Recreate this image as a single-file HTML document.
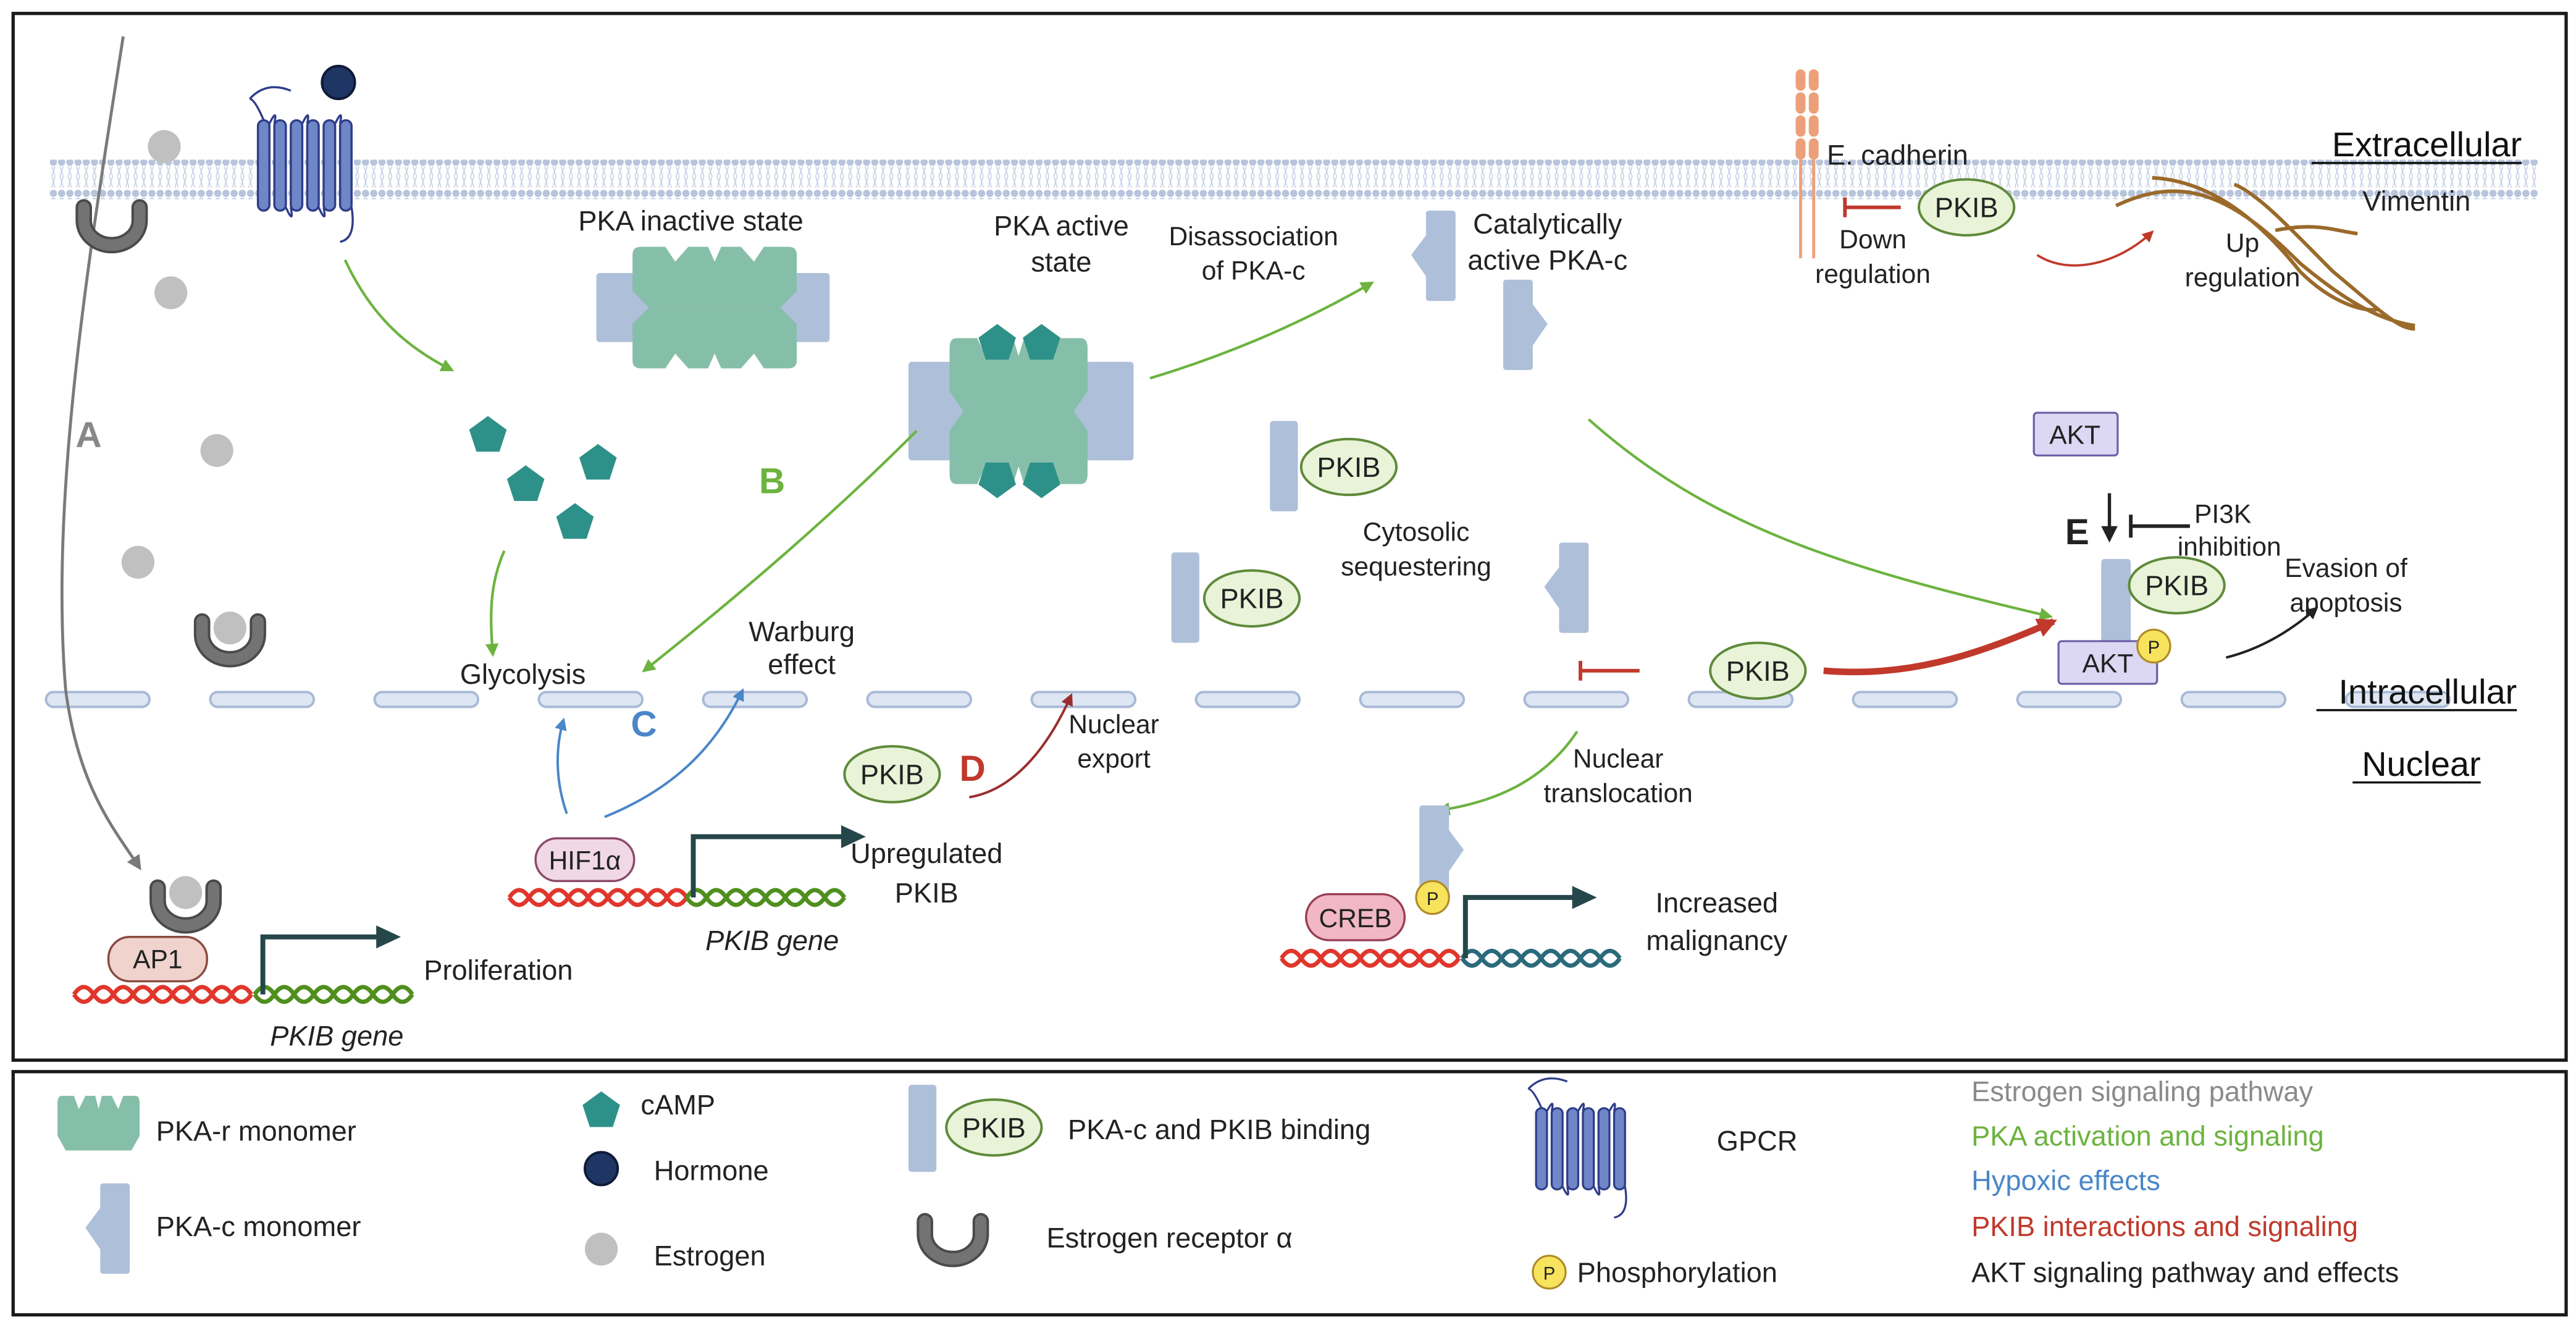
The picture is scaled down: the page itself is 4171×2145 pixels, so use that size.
<!DOCTYPE html>
<html><head><meta charset="utf-8"><style>
html,body{margin:0;padding:0;background:#fff;}
svg{display:block;}
text{font-family:"Liberation Sans",sans-serif;}
</style></head><body>
<svg width="4171" height="2145" viewBox="0 0 1568 806" xmlns="http://www.w3.org/2000/svg">
<defs>
<marker id="mg" viewBox="0 0 10 10" refX="8" refY="5" markerWidth="5" markerHeight="5" orient="auto"><path d="M0,0 L10,5 L0,10 Z" fill="#6cb33f"/></marker>
<marker id="mb" viewBox="0 0 10 10" refX="8" refY="5" markerWidth="5" markerHeight="5" orient="auto"><path d="M0,0 L10,5 L0,10 Z" fill="#4a86c8"/></marker>
<marker id="mr" viewBox="0 0 10 10" refX="8" refY="5" markerWidth="5" markerHeight="5" orient="auto"><path d="M0,0 L10,5 L0,10 Z" fill="#c0392b"/></marker>
<marker id="md" viewBox="0 0 10 10" refX="8" refY="5" markerWidth="5" markerHeight="5" orient="auto"><path d="M0,0 L10,5 L0,10 Z" fill="#9b2f2f"/></marker>
<marker id="mk" viewBox="0 0 10 10" refX="8" refY="5" markerWidth="5" markerHeight="5" orient="auto"><path d="M0,0 L10,5 L0,10 Z" fill="#222"/></marker>
<marker id="mgr" viewBox="0 0 10 10" refX="8" refY="5" markerWidth="5" markerHeight="5" orient="auto"><path d="M0,0 L10,5 L0,10 Z" fill="#7a7a7a"/></marker>
<marker id="mr2" viewBox="0 0 10 10" refX="8" refY="5" markerWidth="3" markerHeight="3" orient="auto"><path d="M0,0 L10,5 L0,10 Z" fill="#c0392b"/></marker>
<pattern id="lip" x="0" y="0" width="5" height="24" patternUnits="userSpaceOnUse">
<circle cx="2.5" cy="2.5" r="2.2" fill="#b7c4dc"/>
<circle cx="2.5" cy="21.5" r="2.2" fill="#b7c4dc"/>
<path d="M1.5,5 L3.5,11 L1.5,18 M3.5,5 L1.5,11 L3.5,18" stroke="#c7d1e4" stroke-width="0.6" fill="none"/>
</pattern>
<g id="pkacL"><path d="M9,2 Q9,0 11,0 L25,0 Q27,0 27,2 L27,53 Q27,55 25,55 L11,55 Q9,55 9,53 L9,40 L0,27 L9,15 Z" fill="#aebfd9"/></g>
<g id="pkacR"><path d="M18,2 Q18,0 16,0 L2,0 Q0,0 0,2 L0,53 Q0,55 2,55 L16,55 Q18,55 18,53 L18,40 L27,27 L18,15 Z" fill="#aebfd9"/></g>
<g id="rhalf"><path d="M-50,-32 Q-50,-37 -45,-37 L-30,-37 L-24,-28 L-16,-37 L-4,-37 L0,-28 L4,-37 L16,-37 L24,-28 L30,-37 L45,-37 Q50,-37 50,-32 L50,-10 L40,0 L-40,0 L-50,-10 Z" fill="#86bfa9"/></g>
<g id="pent"><polygon points="0,-12 11.4,-3.7 7,9.7 -7,9.7 -11.4,-3.7" fill="#2e9189"/></g>
<g id="cup"><path d="M-17,-12 L-17,-4 A17,15 0 0 0 17,-4 L17,-12" stroke="#4a4a4a" stroke-width="10" fill="none" stroke-linecap="round"/><path d="M-17,-12 L-17,-4 A17,15 0 0 0 17,-4 L17,-12" stroke="#737373" stroke-width="7" fill="none" stroke-linecap="round"/></g>
<g id="pkib"><ellipse cx="0" cy="0" rx="29" ry="17" fill="#e8f3d8" stroke="#5f8a3a" stroke-width="1.5"/><text x="0" y="6" font-size="17" text-anchor="middle" fill="#222">PKIB</text></g>
<g id="pcirc"><circle r="10" fill="#f7e35c" stroke="#b08a2a" stroke-width="1.2"/><text y="4.5" font-size="11" text-anchor="middle" fill="#222">P</text></g>
<g id="gpcr" fill="#6f86c7" stroke="#2f3d8a" stroke-width="1.3">
<path d="M-5,-25 Q5,-36 20,-30" fill="none"/>
<rect x="0" y="-12" width="7" height="55" rx="3.5"/><rect x="10" y="-12" width="7" height="55" rx="3.5"/><rect x="20" y="-12" width="7" height="55" rx="3.5"/><rect x="30" y="-12" width="7" height="55" rx="3.5"/><rect x="40" y="-12" width="7" height="55" rx="3.5"/><rect x="50" y="-12" width="7" height="55" rx="3.5"/>
<path d="M3.5,-12 Q-2,-25 -5,-25 M7,-10 Q12,-20 10,-10 M27,-10 Q32,-20 30,-10 M47,-10 Q52,-20 50,-10 M17,41 Q22,52 20,41 M37,41 Q42,52 40,41 M57,41 Q60,60 50,62" fill="none"/>
</g>
<path id="dnaR" d="M0,0 q6,-9 12,0 t12,0 t12,0 t12,0 t12,0 t12,0 t12,0 t12,0 t12,0 M0,0 q6,9 12,0 t12,0 t12,0 t12,0 t12,0 t12,0 t12,0 t12,0 t12,0" stroke="#e0362c" stroke-width="2.6" fill="none"/>
<path id="dnaG" d="M0,0 q6,-9 12,0 t12,0 t12,0 t12,0 t12,0 t12,0 t12,0 t12,0 M0,0 q6,9 12,0 t12,0 t12,0 t12,0 t12,0 t12,0 t12,0 t12,0" stroke="#4f8f1e" stroke-width="2.6" fill="none"/>
<path id="dnaT" d="M0,0 q6,-9 12,0 t12,0 t12,0 t12,0 t12,0 t12,0 t12,0 t12,0 M0,0 q6,9 12,0 t12,0 t12,0 t12,0 t12,0 t12,0 t12,0 t12,0" stroke="#2a6a7a" stroke-width="2.6" fill="none"/>
</defs>

<rect x="0" y="0" width="1568" height="806" fill="#fff"/>
<rect x="8" y="8" width="1554" height="637" fill="#fff" stroke="#1a1a1a" stroke-width="2"/>
<rect x="8" y="652" width="1554" height="148" fill="#fff" stroke="#1a1a1a" stroke-width="2"/>

<rect x="30" y="97" width="1515" height="24" fill="url(#lip)"/>

<g fill="#dde6f2" stroke="#a9bad6" stroke-width="1.5">
<rect x="28" y="421" width="63" height="9" rx="4.5"/><rect x="128" y="421" width="63" height="9" rx="4.5"/><rect x="228" y="421" width="63" height="9" rx="4.5"/><rect x="328" y="421" width="63" height="9" rx="4.5"/><rect x="428" y="421" width="63" height="9" rx="4.5"/><rect x="528" y="421" width="63" height="9" rx="4.5"/><rect x="628" y="421" width="63" height="9" rx="4.5"/><rect x="728" y="421" width="63" height="9" rx="4.5"/><rect x="828" y="421" width="63" height="9" rx="4.5"/><rect x="928" y="421" width="63" height="9" rx="4.5"/><rect x="1028" y="421" width="63" height="9" rx="4.5"/><rect x="1128" y="421" width="63" height="9" rx="4.5"/><rect x="1228" y="421" width="63" height="9" rx="4.5"/><rect x="1328" y="421" width="63" height="9" rx="4.5"/><rect x="1428" y="421" width="63" height="9" rx="4.5"/>
</g>

<g font-size="21" fill="#111" text-anchor="end">
<text x="1535" y="95">Extracellular</text><line x1="1407" y1="99" x2="1535" y2="99" stroke="#111" stroke-width="1.3"/>
<text x="1532" y="428">Intracellular</text><line x1="1410" y1="432" x2="1532" y2="432" stroke="#111" stroke-width="1.3"/>
<text x="1510" y="472">Nuclear</text><line x1="1432" y1="476" x2="1510" y2="476" stroke="#111" stroke-width="1.3"/>
</g>

<path d="M75,22 C55,150 30,300 40,420 C48,480 70,505 85,528" stroke="#7a7a7a" stroke-width="1.8" fill="none" marker-end="url(#mgr)"/>
<circle cx="100" cy="89" r="10" fill="#c0c0c0"/>
<circle cx="104" cy="178" r="10" fill="#c0c0c0"/>
<circle cx="132" cy="274" r="10" fill="#c0c0c0"/>
<circle cx="84" cy="342" r="10" fill="#c0c0c0"/>
<use href="#cup" x="68" y="138"/>
<circle cx="140" cy="382" r="10" fill="#c0c0c0"/>
<use href="#cup" x="140" y="390"/>
<text x="46" y="272" font-size="22" font-weight="bold" fill="#888">A</text>

<use href="#gpcr" x="157" y="85"/>
<circle cx="206" cy="50" r="10" fill="#1f3563" stroke="#0e1a38" stroke-width="1.5"/>
<path d="M210,158 C225,190 245,210 275,225" stroke="#6cb33f" stroke-width="1.6" fill="none" marker-end="url(#mg)"/>
<use href="#pent" x="297" y="265"/><use href="#pent" x="364" y="282"/><use href="#pent" x="320" y="295"/><use href="#pent" x="350" y="318"/>
<path d="M307,335 C298,355 298,375 300,398" stroke="#6cb33f" stroke-width="1.6" fill="none" marker-end="url(#mg)"/>
<text x="280" y="416" font-size="17" fill="#222">Glycolysis</text>

<text x="352" y="140" font-size="17" fill="#222">PKA inactive state</text>
<rect x="363" y="166" width="142" height="42" rx="2" fill="#aebfd9"/>
<use href="#rhalf" x="435" y="187"/>
<use href="#rhalf" transform="translate(435,187) scale(1,-1)"/>

<text x="646" y="143" font-size="17" fill="#222" text-anchor="middle">PKA active</text>
<text x="646" y="165" font-size="17" fill="#222" text-anchor="middle">state</text>
<rect x="553" y="220" width="137" height="60" rx="2" fill="#aebfd9"/>
<use href="#rhalf" transform="translate(620,250) scale(0.84,1.2)"/>
<use href="#rhalf" transform="translate(620,250) scale(0.84,-1.2)"/>
<use href="#pent" x="607" y="209"/><use href="#pent" x="634" y="209"/>
<use href="#pent" transform="translate(607,291) scale(1,-1)"/><use href="#pent" transform="translate(634,291) scale(1,-1)"/>
<text x="462" y="300" font-size="22" font-weight="bold" fill="#6cb33f">B</text>
<path d="M558,262 C500,320 440,370 392,408" stroke="#6cb33f" stroke-width="1.6" fill="none" marker-end="url(#mg)"/>

<text x="488" y="390" font-size="17" fill="#222" text-anchor="middle">Warburg</text>
<text x="488" y="410" font-size="17" fill="#222" text-anchor="middle">effect</text>
<text x="384" y="448" font-size="22" font-weight="bold" fill="#4a86c8">C</text>
<path d="M345,495 C338,475 338,455 343,438" stroke="#4a86c8" stroke-width="1.5" fill="none" marker-end="url(#mb)"/>
<path d="M368,497 C410,480 435,455 452,420" stroke="#4a86c8" stroke-width="1.5" fill="none" marker-end="url(#mb)"/>
<use href="#dnaR" x="310" y="546"/>
<use href="#dnaG" x="418" y="546"/>
<rect x="326" y="510" width="60" height="26" rx="13" fill="#f1d8e6" stroke="#8a4a6a" stroke-width="1.3"/>
<text x="356" y="529" font-size="16" text-anchor="middle" fill="#222">HIF1α</text>
<path d="M422,546 L422,509 L515,509" stroke="#26474a" stroke-width="3" fill="none"/><polygon points="512,502 527,509 512,516" fill="#26474a"/>
<text x="470" y="578" font-size="17" font-style="italic" fill="#222" text-anchor="middle">PKIB gene</text>
<text x="564" y="525" font-size="17" fill="#222" text-anchor="middle">Upregulated</text>
<text x="564" y="549" font-size="17" fill="#222" text-anchor="middle">PKIB</text>

<use href="#pkib" x="543" y="471"/>
<text x="584" y="475" font-size="22" font-weight="bold" fill="#c0392b">D</text>
<path d="M590,485 C620,480 640,450 652,423" stroke="#9b2f2f" stroke-width="1.5" fill="none" marker-end="url(#md)"/>
<text x="678" y="446" font-size="16" fill="#222" text-anchor="middle">Nuclear</text>
<text x="678" y="467" font-size="16" fill="#222" text-anchor="middle">export</text>

<text x="763" y="149" font-size="16" fill="#222" text-anchor="middle">Disassociation</text>
<text x="763" y="170" font-size="16" fill="#222" text-anchor="middle">of PKA-c</text>
<path d="M700,230 C750,215 795,195 835,172" stroke="#6cb33f" stroke-width="1.6" fill="none" marker-end="url(#mg)"/>
<use href="#pkacL" x="859" y="128"/>
<use href="#pkacR" x="915" y="170"/>
<text x="942" y="142" font-size="17" fill="#222" text-anchor="middle">Catalytically</text>
<text x="942" y="164" font-size="17" fill="#222" text-anchor="middle">active PKA-c</text>

<rect x="773" y="256" width="17" height="55" rx="2" fill="#aebfd9"/>
<use href="#pkib" x="821" y="284"/>
<rect x="713" y="336" width="17" height="55" rx="2" fill="#aebfd9"/>
<use href="#pkib" x="762" y="364"/>
<text x="862" y="329" font-size="16" fill="#222" text-anchor="middle">Cytosolic</text>
<text x="862" y="350" font-size="16" fill="#222" text-anchor="middle">sequestering</text>
<use href="#pkacL" x="940" y="330"/>

<path d="M967,255 C1040,320 1120,345 1248,375" stroke="#6cb33f" stroke-width="1.6" fill="none" marker-end="url(#mg)"/>
<path d="M962,402 L962,414 M962,408 L998,408" stroke="#c0392b" stroke-width="2.2" fill="none"/>
<use href="#pkib" x="1070" y="408"/>
<path d="M1110,408 C1160,412 1200,400 1250,378" stroke="#c0392b" stroke-width="4" fill="none" marker-end="url(#mr2)"/>

<path d="M960,445 C940,475 910,488 876,493" stroke="#6cb33f" stroke-width="1.6" fill="none" marker-end="url(#mg)"/>
<text x="985" y="467" font-size="16" fill="#222" text-anchor="middle">Nuclear</text>
<text x="985" y="488" font-size="16" fill="#222" text-anchor="middle">translocation</text>
<use href="#pkacR" x="864" y="490"/>
<use href="#dnaR" x="780" y="583"/>
<use href="#dnaT" x="890" y="583"/>
<rect x="795" y="544" width="60" height="28" rx="14" fill="#f2b7c4" stroke="#9a3d55" stroke-width="1.3"/>
<text x="825" y="564" font-size="16" text-anchor="middle" fill="#222">CREB</text>
<use href="#pcirc" x="872" y="546"/>
<path d="M892,583 L892,546 L960,546" stroke="#26474a" stroke-width="3" fill="none"/><polygon points="957,539 972,546 957,553" fill="#26474a"/>
<text x="1045" y="555" font-size="17" fill="#222" text-anchor="middle">Increased</text>
<text x="1045" y="578" font-size="17" fill="#222" text-anchor="middle">malignancy</text>

<g fill="#eca07a">
<rect x="1093" y="42" width="6" height="13" rx="3"/><rect x="1101" y="42" width="6" height="13" rx="3"/>
<rect x="1093" y="56" width="6" height="13" rx="3"/><rect x="1101" y="56" width="6" height="13" rx="3"/>
<rect x="1093" y="70" width="6" height="13" rx="3"/><rect x="1101" y="70" width="6" height="13" rx="3"/>
<rect x="1093" y="84" width="6" height="13" rx="3"/><rect x="1101" y="84" width="6" height="13" rx="3"/>
</g>
<path d="M1096,97 L1096,157 M1104,97 L1104,157" stroke="#eca07a" stroke-width="1.8"/>
<text x="1112" y="100" font-size="17" fill="#222">E. cadherin</text>
<path d="M1123,120 L1123,132 M1123,126 L1157,126" stroke="#c0392b" stroke-width="2.2" fill="none"/>
<use href="#pkib" x="1197" y="126"/>
<text x="1140" y="151" font-size="16" fill="#222" text-anchor="middle">Down</text>
<text x="1140" y="172" font-size="16" fill="#222" text-anchor="middle">regulation</text>
<path d="M1240,155 C1260,168 1290,160 1310,141" stroke="#c0392b" stroke-width="1.4" fill="none" marker-end="url(#mr)"/>
<text x="1365" y="153" font-size="16" fill="#222" text-anchor="middle">Up</text>
<text x="1365" y="174" font-size="16" fill="#222" text-anchor="middle">regulation</text>
<text x="1438" y="128" font-size="17" fill="#222">Vimentin</text>
<g stroke="#9a6a2a" stroke-width="2.2" fill="none">
<path d="M1288,125 C1330,105 1360,120 1400,160 C1430,185 1450,195 1470,198"/>
<path d="M1310,108 C1350,110 1380,140 1400,165 C1420,185 1440,190 1448,188"/>
<path d="M1360,112 C1375,118 1395,140 1420,165 C1450,190 1460,200 1470,200"/>
<path d="M1385,140 C1410,135 1420,140 1435,142"/>
</g>

<rect x="1238" y="251" width="51" height="26" rx="2" fill="#dcd7f3" stroke="#6a5fa6" stroke-width="1.2"/>
<text x="1263" y="270" font-size="16" text-anchor="middle" fill="#222">AKT</text>
<text x="1257" y="331" font-size="22" font-weight="bold" fill="#222">E</text>
<path d="M1284,300 L1284,328" stroke="#222" stroke-width="2" fill="none" marker-end="url(#mk)"/>
<path d="M1297,313 L1297,327 M1297,320 L1333,320" stroke="#222" stroke-width="2.2" fill="none"/>
<text x="1353" y="318" font-size="16" fill="#222" text-anchor="middle">PI3K</text>
<text x="1357" y="338" font-size="16" fill="#222" text-anchor="middle">inhibition</text>
<rect x="1279" y="340" width="18" height="55" rx="2" fill="#aebfd9"/>
<rect x="1253" y="390" width="60" height="26" rx="2" fill="#dcd7f3" stroke="#6a5fa6" stroke-width="1.2"/>
<text x="1283" y="409" font-size="16" text-anchor="middle" fill="#222">AKT</text>
<use href="#pkib" x="1325" y="356"/>
<use href="#pcirc" x="1311" y="393"/>
<path d="M1355,400 C1375,395 1393,385 1410,370" stroke="#222" stroke-width="1.5" fill="none" marker-end="url(#mk)"/>
<text x="1428" y="351" font-size="16" fill="#222" text-anchor="middle">Evasion of</text>
<text x="1428" y="372" font-size="16" fill="#222" text-anchor="middle">apoptosis</text>

<use href="#dnaR" x="45" y="605"/>
<use href="#dnaG" x="155" y="605"/>
<circle cx="113" cy="543" r="10" fill="#c0c0c0"/>
<use href="#cup" x="113" y="552"/>
<rect x="66" y="570" width="60" height="27" rx="13" fill="#efd3cc" stroke="#8a4a40" stroke-width="1.3"/>
<text x="96" y="589" font-size="16" text-anchor="middle" fill="#222">AP1</text>
<path d="M160,605 L160,570 L232,570" stroke="#26474a" stroke-width="3" fill="none"/><polygon points="229,563 244,570 229,577" fill="#26474a"/>
<text x="258" y="596" font-size="17" fill="#222">Proliferation</text>
<text x="205" y="636" font-size="17" font-style="italic" fill="#222" text-anchor="middle">PKIB gene</text>

<use href="#rhalf" transform="translate(60,700) scale(0.5,0.9)"/>
<text x="95" y="694" font-size="17" fill="#222">PKA-r monomer</text>
<use href="#pkacL" x="52" y="720"/>
<text x="95" y="752" font-size="17" fill="#222">PKA-c monomer</text>
<use href="#pent" x="366" y="676"/>
<text x="390" y="678" font-size="17" fill="#222">cAMP</text>
<circle cx="366" cy="711" r="10" fill="#1f3563" stroke="#0e1a38" stroke-width="1.5"/>
<text x="398" y="718" font-size="17" fill="#222">Hormone</text>
<circle cx="366" cy="760" r="10" fill="#c0c0c0"/>
<text x="398" y="770" font-size="17" fill="#222">Estrogen</text>
<rect x="553" y="660" width="17" height="53" rx="2" fill="#aebfd9"/>
<use href="#pkib" x="605" y="686"/>
<text x="650" y="693" font-size="17" fill="#222">PKA-c and PKIB binding</text>
<use href="#cup" x="580" y="755"/>
<text x="637" y="759" font-size="17" fill="#222">Estrogen receptor α</text>
<use href="#gpcr" transform="translate(935,685) scale(0.95,0.9)"/>
<text x="1045" y="700" font-size="17" fill="#222">GPCR</text>
<use href="#pcirc" x="943" y="774"/>
<text x="960" y="780" font-size="17" fill="#222">Phosphorylation</text>
<g font-size="17">
<text x="1200" y="670" fill="#8a8a8a">Estrogen signaling pathway</text>
<text x="1200" y="697" fill="#6cb33f">PKA activation and signaling</text>
<text x="1200" y="724" fill="#4a86c8">Hypoxic effects</text>
<text x="1200" y="752" fill="#c0392b">PKIB interactions and signaling</text>
<text x="1200" y="780" fill="#222">AKT signaling pathway and effects</text>
</g>
</svg>
</body></html>
